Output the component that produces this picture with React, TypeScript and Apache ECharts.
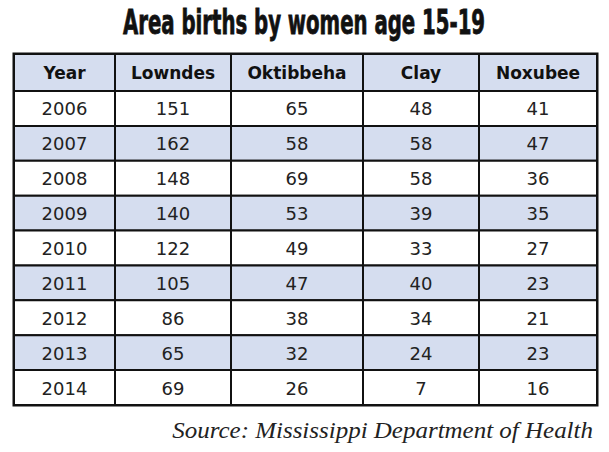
import React, { useEffect, useRef } from "react";
import * as echarts from "echarts";

// ---- data ----
const titleText = "Area births by women age 15-19";
const sourceText = "Source: Mississippi Department of Health";
const headers = ["Year", "Lowndes", "Oktibbeha", "Clay", "Noxubee"];
const years = ["2006", "2007", "2008", "2009", "2010", "2011", "2012", "2013", "2014"];
const lowndes = [151, 162, 148, 140, 122, 105, 86, 65, 69];
const oktibbeha = [65, 58, 69, 53, 49, 47, 38, 32, 26];
const clay = [48, 58, 58, 39, 33, 40, 34, 24, 7];
const noxubee = [41, 47, 36, 35, 27, 23, 21, 23, 16];

// ---- layout (not data) ----
const colWidths = [101, 116, 132, 116, 118];
const headerH = 37;
const rowH = 34.9;

const colEdges: number[] = [0];
colWidths.forEach((w) => colEdges.push(colEdges[colEdges.length - 1] + w));
const totalW = colEdges[colEdges.length - 1];
const rowEdge = (r: number) => (r === 0 ? 0 : headerH + (r - 1) * rowH);
const totalH = rowEdge(years.length + 1);

type Cell = { c: number; r: number; text: string };
const cells: Cell[] = [];
headers.forEach((h, c) => cells.push({ c, r: 0, text: h }));
const columns = [years, lowndes, oktibbeha, clay, noxubee];
years.forEach((_, i) => {
  columns.forEach((col, c) => cells.push({ c, r: i + 1, text: String(col[i]) }));
});

const BLUE = "#d5ddef";
const SERIF = "'Liberation Serif', 'Times New Roman', Times, serif";

function measure(text: string, font: string) {
  const cv = document.createElement("canvas");
  const ctx = cv.getContext("2d")!;
  ctx.font = font;
  return ctx.measureText(text).width;
}

export default function App() {
  const ref = useRef<HTMLDivElement>(null);
  useEffect(() => {
    if (!ref.current) return;
    const chart = echarts.init(ref.current, undefined, { renderer: "svg" });

    const titleScale = 362 / measure(titleText, "bold 33px 'DejaVu Sans Condensed'");
    const srcScale = 421 / measure(sourceText, "italic 24px " + SERIF);

    chart.setOption({
      animation: false,
      grid: {
        left: 14,
        top: 54,
        width: 583,
        height: 351,
        show: true,
        borderColor: "#111",
        borderWidth: 3,
        backgroundColor: "transparent",
      },
      xAxis: { type: "value", min: 0, max: totalW, show: false },
      yAxis: { type: "value", min: 0, max: totalH, inverse: true, show: false },
      graphic: [
        {
          type: "text",
          x: 304,
          y: 22.5,
          scaleX: titleScale,
          style: {
            text: titleText,
            fontFamily: "DejaVu Sans Condensed",
            fontWeight: "bold",
            fontSize: 33,
            fill: "#111",
            align: "center",
            verticalAlign: "middle",
            stroke: "#111",
            lineWidth: 0.8,
          },
        },
        {
          type: "text",
          x: 593,
          y: 430,
          scaleX: srcScale,
          style: {
            text: sourceText,
            fontFamily: SERIF,
            fontStyle: "italic",
            fontSize: 24,
            fill: "#222",
            align: "right",
            verticalAlign: "middle",
          },
        },
      ],
      series: [
        {
          type: "custom",
          coordinateSystem: "cartesian2d",
          data: cells.map((d) => [d.c, d.r]),
          renderItem: (params: any, api: any) => {
            const cell = cells[params.dataIndex];
            const p0 = api.coord([colEdges[cell.c], rowEdge(cell.r)]);
            const p1 = api.coord([colEdges[cell.c + 1], rowEdge(cell.r + 1)]);
            const isHeader = cell.r === 0;
            const blue = isHeader || cell.r % 2 === 0;
            return {
              type: "group",
              children: [
                {
                  type: "rect",
                  shape: { x: p0[0], y: p0[1], width: p1[0] - p0[0], height: p1[1] - p0[1] },
                  style: { fill: blue ? BLUE : "#ffffff", stroke: "#111", lineWidth: 2 },
                },
                {
                  type: "text",
                  x: (p0[0] + p1[0]) / 2,
                  y: (p0[1] + p1[1]) / 2 + 0.5,
                  style: {
                    text: cell.text,
                    align: "center",
                    verticalAlign: "middle",
                    fill: isHeader ? "#111" : "#222",
                    fontFamily: "DejaVu Sans",
                    fontWeight: isHeader ? "bold" : "normal",
                    fontSize: isHeader ? 17 : 18,
                  },
                },
              ],
            };
          },
        },
      ],
    });
    return () => chart.dispose();
  }, []);
  return (
    <div
      ref={ref}
      style={{ position: "absolute", left: 0, top: 0, width: 609, height: 452 }}
    />
  );
}
